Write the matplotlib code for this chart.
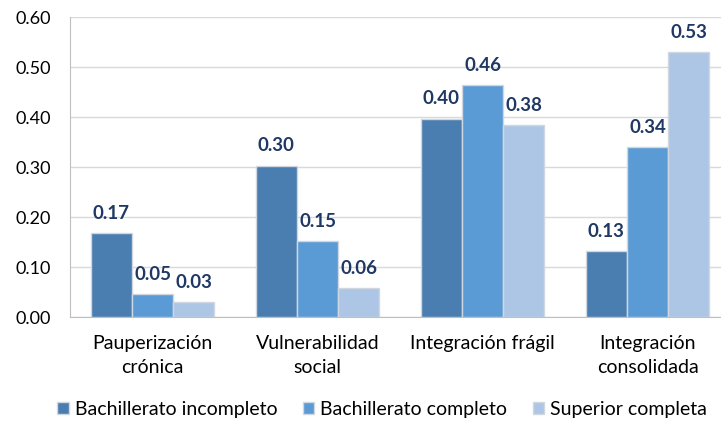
import numpy as np
import matplotlib
matplotlib.use("Agg")
import matplotlib.pyplot as plt

plt.rcParams['font.family'] = ['Lato', 'DejaVu Sans']

categorias = ["Pauperización\ncrónica", "Vulnerabilidad\nsocial", "Integración frágil", "Integración\nconsolidada"]
series = ["Bachillerato incompleto", "Bachillerato completo", "Superior completa"]
bach_incompleto = [0.168, 0.303, 0.397, 0.132]
bach_completo = [0.046, 0.152, 0.464, 0.340]
superior = [0.030, 0.058, 0.384, 0.530]
valores = [bach_incompleto, bach_completo, superior]
colores = ["#4A7EB0", "#5B9BD5", "#ADC6E5"]

fig = plt.figure(figsize=(7.21, 4.25), dpi=100)
ax = fig.add_axes([70/721, 108/425, 1 - 70/721, 300/425])

x = np.arange(len(categorias))
w = 0.25
for i, (nombre, vals, col) in enumerate(zip(series, valores, colores)):
    bars = ax.bar(x + (i - 1) * w, vals, w, color=col, edgecolor="#D0D7E0", linewidth=1.0,
                  label=nombre, zorder=3)
    for b, v in zip(bars, vals):
        ax.annotate("%.2f" % v, (b.get_x() + b.get_width() / 2, v), xytext=(0, 8),
                    textcoords="offset points", ha="center", va="bottom",
                    fontsize=13.5, fontweight="bold", color="#1F3864")

ax.set_xlim(-0.5, 3.445)
ax.set_ylim(0, 0.6)
ax.set_yticks(np.arange(0, 0.61, 0.1))
ax.set_yticklabels(["%.2f" % t for t in np.arange(0, 0.61, 0.1)], fontsize=13)
ax.set_xticks(x)
ax.set_xticklabels(categorias, fontsize=14, linespacing=1.5)
ax.tick_params(length=0)
ax.tick_params(axis="x", pad=13)
ax.tick_params(axis="y", pad=14)
ax.grid(axis="y", color="#D9D9D9", linewidth=1, zorder=0)
for s in ["top", "right"]:
    ax.spines[s].set_visible(False)
ax.spines["left"].set_color("#BFBFBF")
ax.spines["bottom"].set_color("#BFBFBF")

fig.legend(loc="lower center", bbox_to_anchor=(0.53, -0.025), ncol=3, frameon=False,
           fontsize=14, handlelength=0.6, handleheight=0.6, handletextpad=0.3, columnspacing=1.3)

fig.savefig("out.png", dpi=100)
